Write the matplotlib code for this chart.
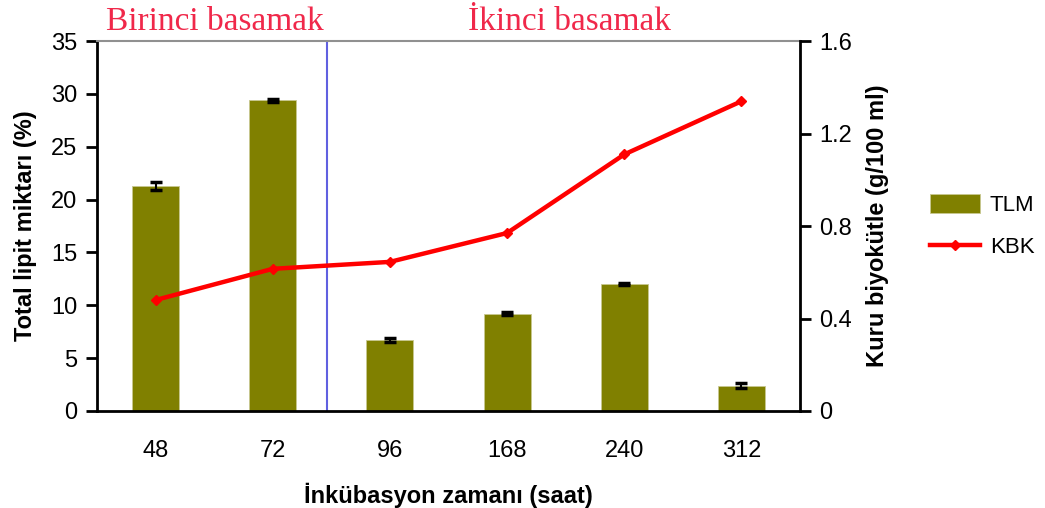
import matplotlib
matplotlib.use("Agg")
import matplotlib.pyplot as plt
import numpy as np

categories = ["48", "72", "96", "168", "240", "312"]
tlm = [21.3, 29.4, 6.7, 9.2, 12.0, 2.4]
tlm_err = [0.35, 0.12, 0.2, 0.12, 0.12, 0.25]
kbk = [0.48, 0.615, 0.645, 0.77, 1.11, 1.34]

plt.rcParams['font.family'] = ['Liberation Sans', 'DejaVu Sans']

fig = plt.figure(figsize=(10.45, 5.08), dpi=100)
ax = fig.add_axes([0.0928, 0.191, 0.6728, 0.728])
x = np.arange(len(categories))

bars = ax.bar(x, tlm, width=0.4, color='#808000', edgecolor='#c8c890', linewidth=0.6,
              yerr=tlm_err, error_kw=dict(ecolor='black', elinewidth=1.5, capsize=4.5, capthick=2.5),
              label='TLM', zorder=2)
ax.set_xlim(-0.5, 5.5)
ax.set_ylim(0, 35)
ax.set_yticks(np.arange(0, 36, 5))
ax.set_xticks(x)
ax.set_xticklabels(categories)
ax.tick_params(axis='x', length=0, pad=21, labelsize=17)
ax.tick_params(axis='y', direction='out', length=8, width=2, labelsize=17, pad=6)
for s in ['left', 'bottom']:
    ax.spines[s].set_linewidth(2)
ax.spines['top'].set_color('#909090')
ax.spines['top'].set_linewidth(1.5)
ax.spines['right'].set_visible(False)
ax.set_ylabel('Total lipit miktarı (%)', fontsize=17, fontweight='bold', labelpad=10)
ax.set_xlabel('İnkübasyon zamanı (saat)', fontsize=17, fontweight='bold', labelpad=15)

ax.axvline(1.46, color='#6060e0', linewidth=1.5, zorder=1)

ax2 = ax.twinx()
line, = ax2.plot(x, kbk, color='red', linewidth=3.2, marker='D', markersize=5,
                 markerfacecolor='red', markeredgecolor='red', label='KBK', zorder=3)
ax2.set_ylim(0, 1.6)
ax2.set_yticks([0, 0.4, 0.8, 1.2, 1.6])
ax2.set_yticklabels(['0', '0.4', '0.8', '1.2', '1.6'])
ax2.tick_params(axis='y', direction='out', length=8, width=2, labelsize=17, pad=6)
ax2.spines['right'].set_linewidth(2)
for s in ['top', 'left', 'bottom']:
    ax2.spines[s].set_visible(False)
ax2.set_ylabel('Kuru biyokütle (g/100 ml)', fontsize=17, fontweight='bold', labelpad=10)

fig.text(215/1045, 1 - 22/508, 'Birinci basamak', color='#f0284a', fontsize=24,
         family='Liberation Serif', ha='center', va='center')
fig.text(570/1045, 1 - 22/508, 'İkinci basamak', color='#f0284a', fontsize=24,
         family='Liberation Serif', ha='center', va='center')

fig.legend([bars, line], ['TLM', 'KBK'], loc='center left', bbox_to_anchor=(0.875, 0.555),
           frameon=False, fontsize=16, handlelength=2.25, handleheight=0.9,
           labelspacing=0.9, handletextpad=0.45, borderpad=0.2)

fig.savefig('out.png', dpi=100)
